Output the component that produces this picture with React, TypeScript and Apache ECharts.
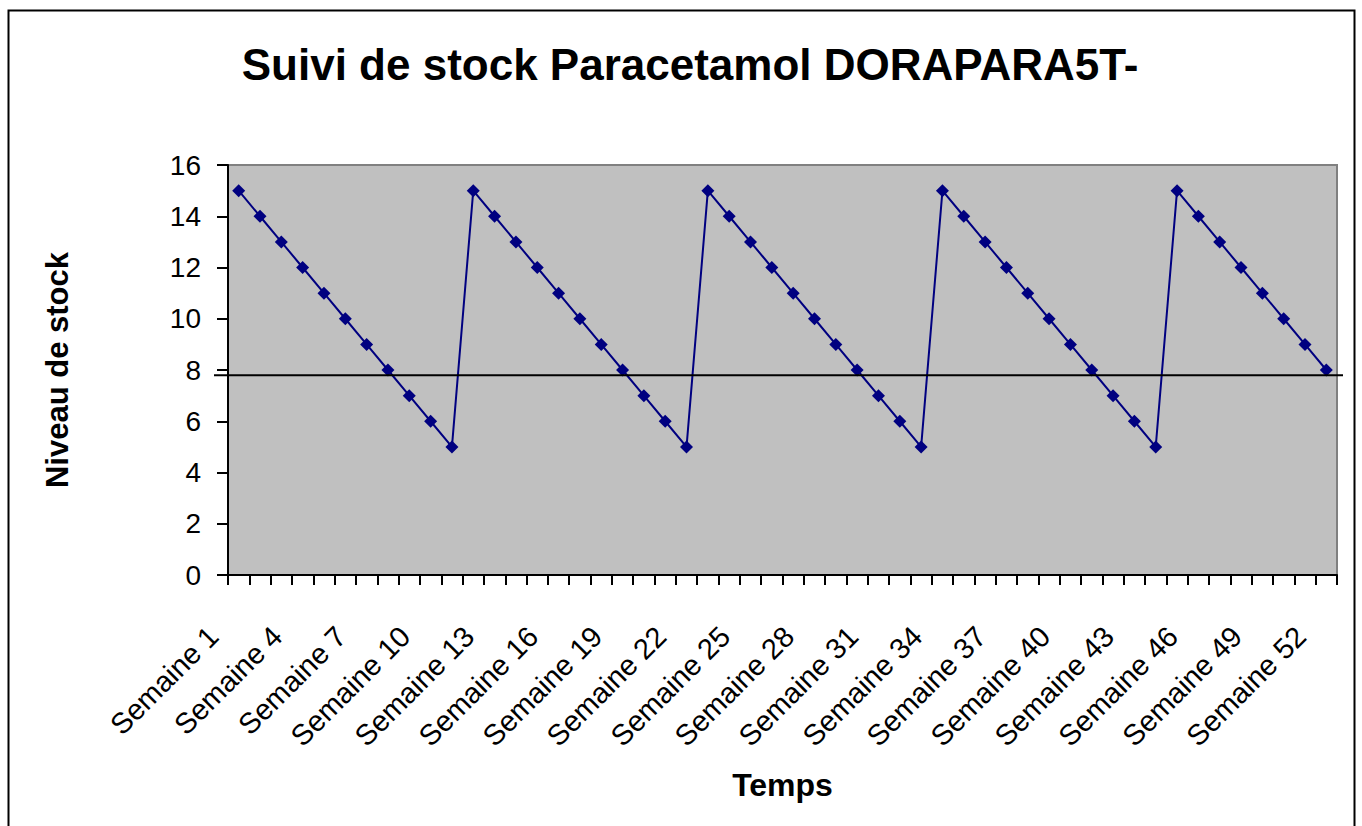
import React, { useEffect, useRef } from "react";
import * as echarts from "echarts";

const weeks: string[] = Array.from({ length: 52 }, (_, i) => `Semaine ${i + 1}`);
const cycle1: number[] = [15, 14, 13, 12, 11, 10, 9, 8, 7, 6, 5];
const cycle2: number[] = [15, 14, 13, 12, 11, 10, 9, 8, 7, 6, 5];
const cycle3: number[] = [15, 14, 13, 12, 11, 10, 9, 8, 7, 6, 5];
const cycle4: number[] = [15, 14, 13, 12, 11, 10, 9, 8, 7, 6, 5];
const cycle5: number[] = [15, 14, 13, 12, 11, 10, 9, 8];
const stock: number[] = [...cycle1, ...cycle2, ...cycle3, ...cycle4, ...cycle5];
const thresholdLevel = 7.8;
const yTicks = { min: 0, max: 16, interval: 2 };

const FONT = "Arial, 'Liberation Sans', sans-serif";

export default function App() {
  const ref = useRef<HTMLDivElement>(null);
  useEffect(() => {
    if (!ref.current) return;
    const chart = echarts.init(ref.current, null, { renderer: "svg" });
    chart.setOption({
      animation: false,
      backgroundColor: "#ffffff",
      title: {
        text: "Suivi de stock Paracetamol DORAPARA5T-",
        left: 685,
        top: 37,
        textAlign: "center",
        textStyle: { fontFamily: FONT, fontSize: 44, fontWeight: "bold", color: "#000" },
      },
      grid: {
        left: 228,
        right: 25,
        top: 165,
        bottom: 251,
        show: true,
        backgroundColor: "#C0C0C0",
        borderColor: "#808080",
        borderWidth: 2,
      },
      xAxis: {
        type: "category",
        data: weeks,
        boundaryGap: true,
        name: "Temps",
        nameLocation: "middle",
        nameGap: 194,
        nameTextStyle: { fontFamily: FONT, fontSize: 32, fontWeight: "bold", color: "#000" },
        axisLine: { show: true, lineStyle: { color: "#000", width: 2 } },
        axisTick: { show: true, interval: 0, length: 10, lineStyle: { color: "#000", width: 2 } },
        axisLabel: {
          interval: 2,
          rotate: 45,
          margin: 31,
          padding: [0, 36, 0, 0],
          fontFamily: FONT,
          fontSize: 29,
          color: "#000",
        },
        splitLine: { show: false },
      },
      yAxis: {
        type: "value",
        min: yTicks.min,
        max: yTicks.max,
        interval: yTicks.interval,
        name: "Niveau de stock",
        nameLocation: "middle",
        nameGap: 155,
        nameRotate: 90,
        nameTextStyle: { fontFamily: FONT, fontSize: 31, fontWeight: "bold", color: "#000" },
        axisLine: { show: true, lineStyle: { color: "#000", width: 2 } },
        axisTick: { show: true, length: 11, lineStyle: { color: "#000", width: 2 } },
        axisLabel: { fontFamily: FONT, fontSize: 28, color: "#000", margin: 27 },
        splitLine: { show: false },
      },
      series: [
        {
          type: "line",
          data: stock,
          symbol: "diamond",
          symbolSize: 13,
          lineStyle: { color: "#000080", width: 2 },
          itemStyle: { color: "#000080" },
          z: 3,
        },
      ],
    });
    const yPix = chart.convertToPixel({ yAxisIndex: 0 }, thresholdLevel) as number;
    chart.setOption({
      graphic: [
        {
          type: "rect",
          shape: { x: 8.5, y: 10.5, width: 1346, height: 830 },
          style: { fill: "none", stroke: "#000", lineWidth: 2 },
          silent: true,
          z: 10,
        },
        {
          type: "line",
          shape: { x1: 214, y1: yPix, x2: 1343, y2: yPix },
          style: { stroke: "#000", lineWidth: 2 },
          silent: true,
          z: 10,
        },
      ],
    });
    return () => chart.dispose();
  }, []);
  return (
    <div
      ref={ref}
      style={{ position: "fixed", left: 0, top: 0, width: 1362, height: 826 }}
    />
  );
}
